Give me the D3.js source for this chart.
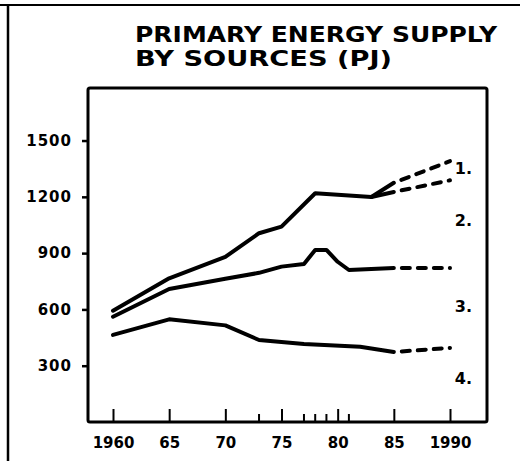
<!DOCTYPE html>
<html>
<head>
<meta charset="utf-8">
<script src="https://cdn.jsdelivr.net/npm/d3@7"></script>
<style>
  body { margin: 0; background: #fff; }
  text { font-family: "DejaVu Sans", sans-serif; font-weight: bold; fill: #000; }
</style>
</head>
<body>
<div id="chart"></div>
<script>
// values (PJ)
const titleLines = ['PRIMARY ENERGY SUPPLY', 'BY SOURCES (PJ)'];
const yTicks = [300, 600, 900, 1200, 1500];
const xTicks = [1960, 1965, 1970, 1975, 1980, 1985, 1990];
const xMinorTicks = [1973, 1977, 1978, 1979, 1981];
const forecastFrom = 1985;

const topYears = [1960, 1965, 1970, 1973, 1975, 1978, 1983, 1985, 1990];
const topValues = [593, 766, 880, 1006, 1041, 1219, 1199, 1275, 1390];
const branchYears = [1983, 1985, 1990];
const branchValues = [1199, 1226, 1288];
const midYears = [1960, 1965, 1970, 1973, 1975, 1977, 1978, 1979, 1980, 1981, 1985, 1990];
const midValues = [561, 709, 763, 795, 828, 842, 917, 917, 854, 810, 821, 821];
const lowYears = [1960, 1965, 1970, 1973, 1977, 1982, 1985, 1990];
const lowValues = [464, 547, 515, 437, 416, 401, 373, 395];

const regionLabels = ['1.', '2.', '3.', '4.'];
const regionValues = [1354, 1077, 618, 235];

const w = 520, h = 461;
const pLeft = 88, pTop = 88, pRight = 487, pBottom = 422;

const svg = d3.select('#chart').append('svg').attr('width', w).attr('height', h);

const xScale = d3.scaleLinear().domain([1960, 1990]).range([113, 450]);
const yScale = d3.scaleLinear().domain([0, 1780]).range([pBottom, pTop]);

// outer frame (top and left edges only)
svg.append('line').attr('x1', 0).attr('x2', w).attr('y1', 5).attr('y2', 5)
  .attr('stroke', '#000').attr('stroke-width', 2);
svg.append('line').attr('x1', 8).attr('x2', 8).attr('y1', 4).attr('y2', h)
  .attr('stroke', '#000').attr('stroke-width', 2.5);

// title, stretched like the hand lettering
svg.selectAll('.title').data(titleLines).enter().append('text')
  .attr('class', 'title')
  .attr('x', 135).attr('y', (d, i) => 42 + i * 24)
  .attr('font-size', 21)
  .attr('textLength', (d, i) => i == 0 ? 362 : 257)
  .attr('lengthAdjust', 'spacingAndGlyphs')
  .text(d => d);

// plot box
svg.append('rect').attr('x', pLeft).attr('y', pTop)
  .attr('width', pRight - pLeft).attr('height', pBottom - pTop)
  .attr('rx', 2).attr('fill', 'none').attr('stroke', '#000').attr('stroke-width', 3);

const yAxis = d3.axisLeft(yScale).tickValues(yTicks).tickSize(6).tickPadding(10)
  .tickFormat(d3.format('d'));
const gy = svg.append('g').attr('transform', 'translate(' + pLeft + ',0)').call(yAxis);
gy.select('.domain').remove();
gy.selectAll('line').attr('stroke-width', 2.5);
gy.selectAll('text').attr('font-size', 15).attr('letter-spacing', 1)
  .style('font-family', '"DejaVu Sans", sans-serif');

const xAxis = d3.axisBottom(xScale).tickValues(xTicks).tickSize(-13).tickPadding(15)
  .tickFormat(d => (d == 1960 || d == 1990) ? String(d) : String(d).slice(2));
const gx = svg.append('g').attr('transform', 'translate(0,' + pBottom + ')').call(xAxis);
gx.select('.domain').remove();
gx.selectAll('line').attr('stroke-width', 2);
gx.selectAll('text').attr('font-size', 15)
  .style('font-family', '"DejaVu Sans", sans-serif');

svg.selectAll('.minor').data(xMinorTicks).enter().append('line')
  .attr('class', 'minor')
  .attr('x1', d => xScale(d)).attr('x2', d => xScale(d))
  .attr('y1', pBottom).attr('y2', pBottom - 8)
  .attr('stroke', '#000').attr('stroke-width', 2);

// series lines, solid up to the forecast year then dashed
const line = d3.line().x(d => xScale(d[0])).y(d => yScale(d[1]));
const series = [
  [topYears, topValues],
  [branchYears, branchValues],
  [midYears, midValues],
  [lowYears, lowValues]
];
series.forEach(([yrs, vals]) => {
  const pts = yrs.map((y, i) => [y, vals[i]]);
  const solid = pts.filter(p => p[0] <= forecastFrom);
  const dashed = pts.filter(p => p[0] >= forecastFrom);
  if (solid.length > 1) {
    svg.append('path').attr('d', line(solid)).attr('fill', 'none')
      .attr('stroke', '#000').attr('stroke-width', 4)
      .attr('stroke-linejoin', 'round').attr('stroke-linecap', 'round');
  }
  if (dashed.length > 1) {
    svg.append('path').attr('d', line(dashed)).attr('fill', 'none')
      .attr('stroke', '#000').attr('stroke-width', 4)
      .attr('stroke-dasharray', '8,8').attr('stroke-dashoffset', -8)
      .attr('stroke-linecap', 'round');
  }
});

// region numbers on the right
svg.selectAll('.region').data(regionLabels).enter().append('text')
  .attr('class', 'region')
  .attr('x', xScale(1991.2)).attr('y', (d, i) => yScale(regionValues[i]))
  .attr('dy', '0.36em').attr('text-anchor', 'middle')
  .attr('font-size', 16)
  .text(d => d);
</script>
</body>
</html>
